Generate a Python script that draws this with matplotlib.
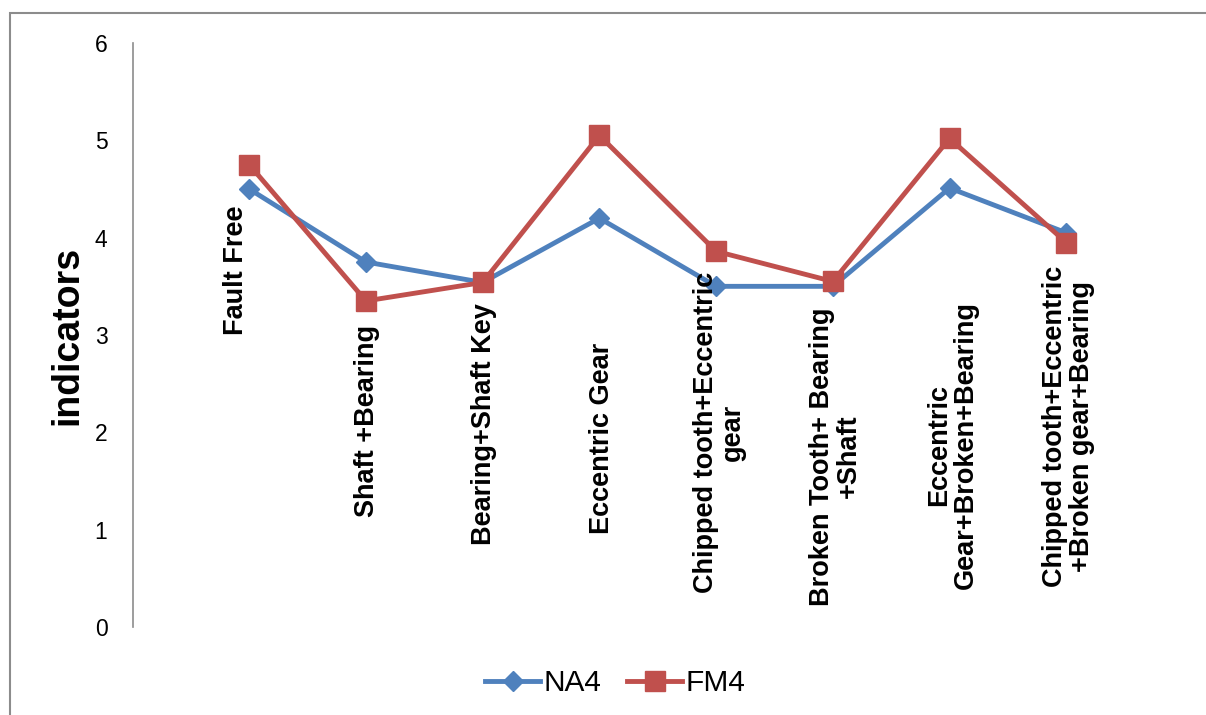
import matplotlib.pyplot as plt
from matplotlib.patches import Rectangle
import numpy as np

categories = [
    "Fault Free",
    "Shaft +Bearing",
    "Bearing+Shaft Key",
    "Eccentric Gear",
    "Chipped tooth+Eccentric\ngear",
    "Broken Tooth+ Bearing\n+Shaft",
    "Eccentric\nGear+Broken+Bearing",
    "Chipped tooth+Eccentric\n+Broken gear+Bearing",
]
na4 = [4.50, 3.75, 3.54, 4.20, 3.50, 3.50, 4.51, 4.05]
fm4 = [4.75, 3.35, 3.54, 5.05, 3.86, 3.55, 5.02, 3.95]

# where each rotated category label sits inside the plot (x, y in data units)
label_pos = [
    (0.886, 3.67), (2.008, 2.12), (3.011, 2.08), (4.021, 1.94),
    (5.032, 2.00), (6.025, 1.75), (7.027, 1.87), (8.021, 2.06),
]

blue = "#4F81BD"
red = "#C0504D"
grey = "#8C8C8C"

plt.rcParams['font.family'] = ['Liberation Sans', 'DejaVu Sans']

W, H = 1206, 715
fig = plt.figure(figsize=(W / 100, H / 100), dpi=100)
ax = fig.add_axes([132.5 / W, 1 - 627 / H, (1183 - 132.5) / W, (627 - 43) / H])

x = np.arange(1, len(categories) + 1)
ax.plot(x, na4, color=blue, lw=3.5, marker='D', ms=10, label="NA4")
ax.plot(x, fm4, color=red, lw=3.5, marker='s', ms=14, label="FM4")

for (lx, ly), name in zip(label_pos, categories):
    ax.text(lx, ly, name, rotation=90, ha='center', va='center',
            multialignment='center', fontsize=19.5, fontweight='bold',
            linespacing=1.05)

ax.set_xlim(0, 9)
ax.set_ylim(0, 6)
ax.set_xticks([])
ax.set_yticks(range(7))
ax.tick_params(axis='y', length=0, pad=18, labelsize=16.5)
for s in ("top", "right", "bottom"):
    ax.spines[s].set_visible(False)
ax.spines["left"].set_color(grey)
ax.spines["left"].set_linewidth(1.2)
ax.set_ylabel("indicators", fontsize=27, fontweight='bold', labelpad=6.5)

fig.legend(loc='center', bbox_to_anchor=(615 / W, 1 - 683 / H), ncol=2,
           frameon=False, fontsize=21.5, handlelength=1.85,
           handletextpad=0.1, columnspacing=0.87, numpoints=1)

# outer chart border
fig.patches.append(Rectangle((10 / W, -0.1), 1.2, 1.1 - 13 / H,
                             transform=fig.transFigure, fill=False,
                             edgecolor=grey, lw=1.5))

fig.savefig("out.png", dpi=100)
